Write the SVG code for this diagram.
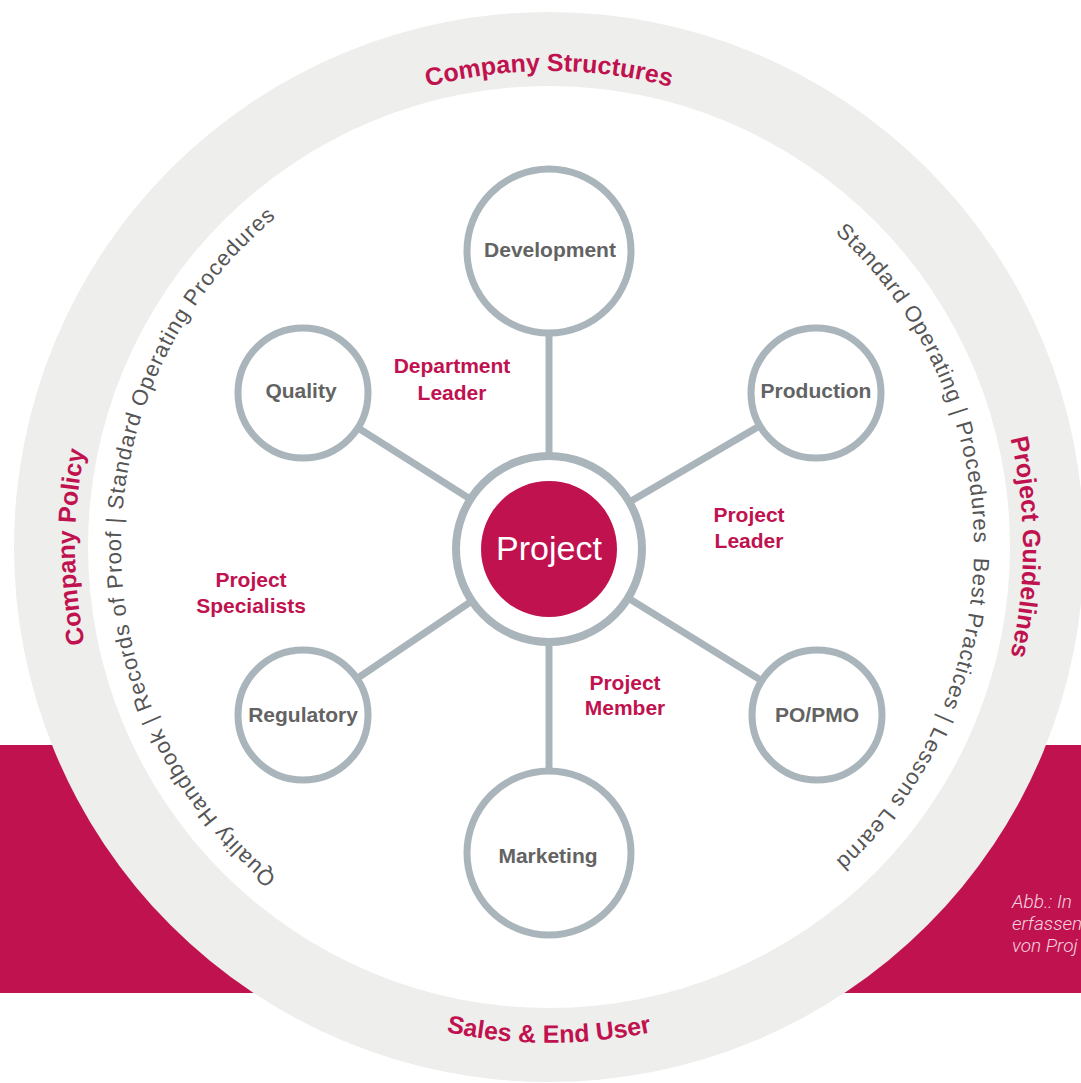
<svg xmlns="http://www.w3.org/2000/svg" width="1081" height="1083" viewBox="0 0 1081 1083">
  <style>
    .ring-label { font-family: "Liberation Sans", Arial, sans-serif; font-weight: bold; font-size: 25px; fill: #c0124f; }
    .ring-text { font-family: "Liberation Sans", Arial, sans-serif; font-size: 22px; fill: #555555; }
    .node-circle { fill: #ffffff; stroke: #a9b5bb; stroke-width: 7; }
    .node-text { font-family: "Liberation Sans", Arial, sans-serif; font-weight: bold; font-size: 21px; fill: #636363; text-anchor: middle; }
    .role { font-family: "Liberation Sans", Arial, sans-serif; font-weight: bold; font-size: 21px; fill: #c0124f; text-anchor: middle; }
    .conn { stroke: #a9b5bb; stroke-width: 7; fill: none; }
    .caption { font-family: "Roboto", "Liberation Sans", sans-serif; font-style: italic; font-weight: 300; font-size: 19px; fill: #f3d3df; }
  </style>
  <defs>
    <path id="arcTop" d="M 73 547 A 476 476 0 0 1 1025 547"/>
    <path id="arcBottom" d="M 53 547 A 496 496 0 0 0 1045 547"/>
    <path id="arcLeft" d="M 549 1021 A 474 474 0 0 1 549 73"/>
    <path id="arcRight" d="M 549 73 A 474 474 0 0 1 549 1021"/>
    <path id="arcLeftInner" d="M 549 975 A 428 428 0 0 1 549 119"/>
    <path id="arcRightInner" d="M 549 122 A 425 425 0 0 1 549 972"/>
  </defs>

  <rect x="0" y="0" width="1081" height="1083" fill="#ffffff"/>
  <rect x="0" y="745" width="1081" height="248" fill="#c0124f"/>

  <g id="caption">
    <text class="caption" x="1012" y="908">Abb.: In</text>
    <text class="caption" x="1012" y="930">erfassen</text>
    <text class="caption" x="1012" y="952">von Proj</text>
  </g>

  <g id="outer-ring">
    <circle cx="549" cy="547" r="535" fill="#eeeeec"/>
    <circle cx="549" cy="547" r="461" fill="#ffffff"/>
    <text class="ring-label"><textPath href="#arcTop" startOffset="50%" text-anchor="middle">Company Structures</textPath></text>
    <text class="ring-label"><textPath href="#arcBottom" startOffset="50%" text-anchor="middle">Sales &amp; End User</textPath></text>
    <text class="ring-label"><textPath href="#arcLeft" startOffset="50%" text-anchor="middle">Company Policy</textPath></text>
    <text class="ring-label"><textPath href="#arcRight" startOffset="50%" text-anchor="middle">Project Guidelines</textPath></text>
    <text class="ring-text" letter-spacing="1"><textPath href="#arcLeftInner" startOffset="50%" text-anchor="middle">Quality Handbook | Records of Proof | Standard Operating Procedures</textPath></text>
    <text class="ring-text" letter-spacing="0.9"><textPath href="#arcRightInner" startOffset="50%" text-anchor="middle">Standard Operating | Procedures&#160; Best Practices | Lessons Learnd</textPath></text>
  </g>

  <g id="connectors">
    <line class="conn" x1="549" y1="549" x2="549" y2="251"/>
    <line class="conn" x1="549" y1="549" x2="549" y2="853"/>
    <line class="conn" x1="549" y1="549" x2="303" y2="393"/>
    <line class="conn" x1="549" y1="549" x2="816" y2="393"/>
    <line class="conn" x1="549" y1="549" x2="303" y2="715"/>
    <line class="conn" x1="549" y1="549" x2="817" y2="715"/>
  </g>

  <g id="node-development">
    <circle class="node-circle" cx="549" cy="251" r="82"/>
    <text class="node-text" x="550" y="257">Development</text>
  </g>
  <g id="node-quality">
    <circle class="node-circle" cx="303" cy="393" r="65"/>
    <text class="node-text" x="301" y="398">Quality</text>
  </g>
  <g id="node-production">
    <circle class="node-circle" cx="816" cy="393" r="65"/>
    <text class="node-text" x="816" y="398">Production</text>
  </g>
  <g id="node-regulatory">
    <circle class="node-circle" cx="303" cy="715" r="65"/>
    <text class="node-text" x="303" y="722">Regulatory</text>
  </g>
  <g id="node-popmo">
    <circle class="node-circle" cx="817" cy="715" r="65"/>
    <text class="node-text" x="817" y="722">PO/PMO</text>
  </g>
  <g id="node-marketing">
    <circle class="node-circle" cx="549" cy="853" r="82"/>
    <text class="node-text" x="548" y="863">Marketing</text>
  </g>
  <g id="node-project">
    <circle cx="549" cy="549" r="93" fill="#ffffff" stroke="#a9b5bb" stroke-width="8"/>
    <circle cx="549" cy="549" r="68" fill="#c0124f"/>
    <text x="549" y="560" text-anchor="middle" font-family="Liberation Sans, Arial, sans-serif" font-size="34" fill="#ffffff">Project</text>
  </g>

  <g id="role-labels">
    <text class="role" x="452" y="373">Department</text>
    <text class="role" x="452" y="400">Leader</text>
    <text class="role" x="749" y="522">Project</text>
    <text class="role" x="749" y="548">Leader</text>
    <text class="role" x="251" y="587">Project</text>
    <text class="role" x="251" y="613">Specialists</text>
    <text class="role" x="625" y="690">Project</text>
    <text class="role" x="625" y="715">Member</text>
  </g>
</svg>
